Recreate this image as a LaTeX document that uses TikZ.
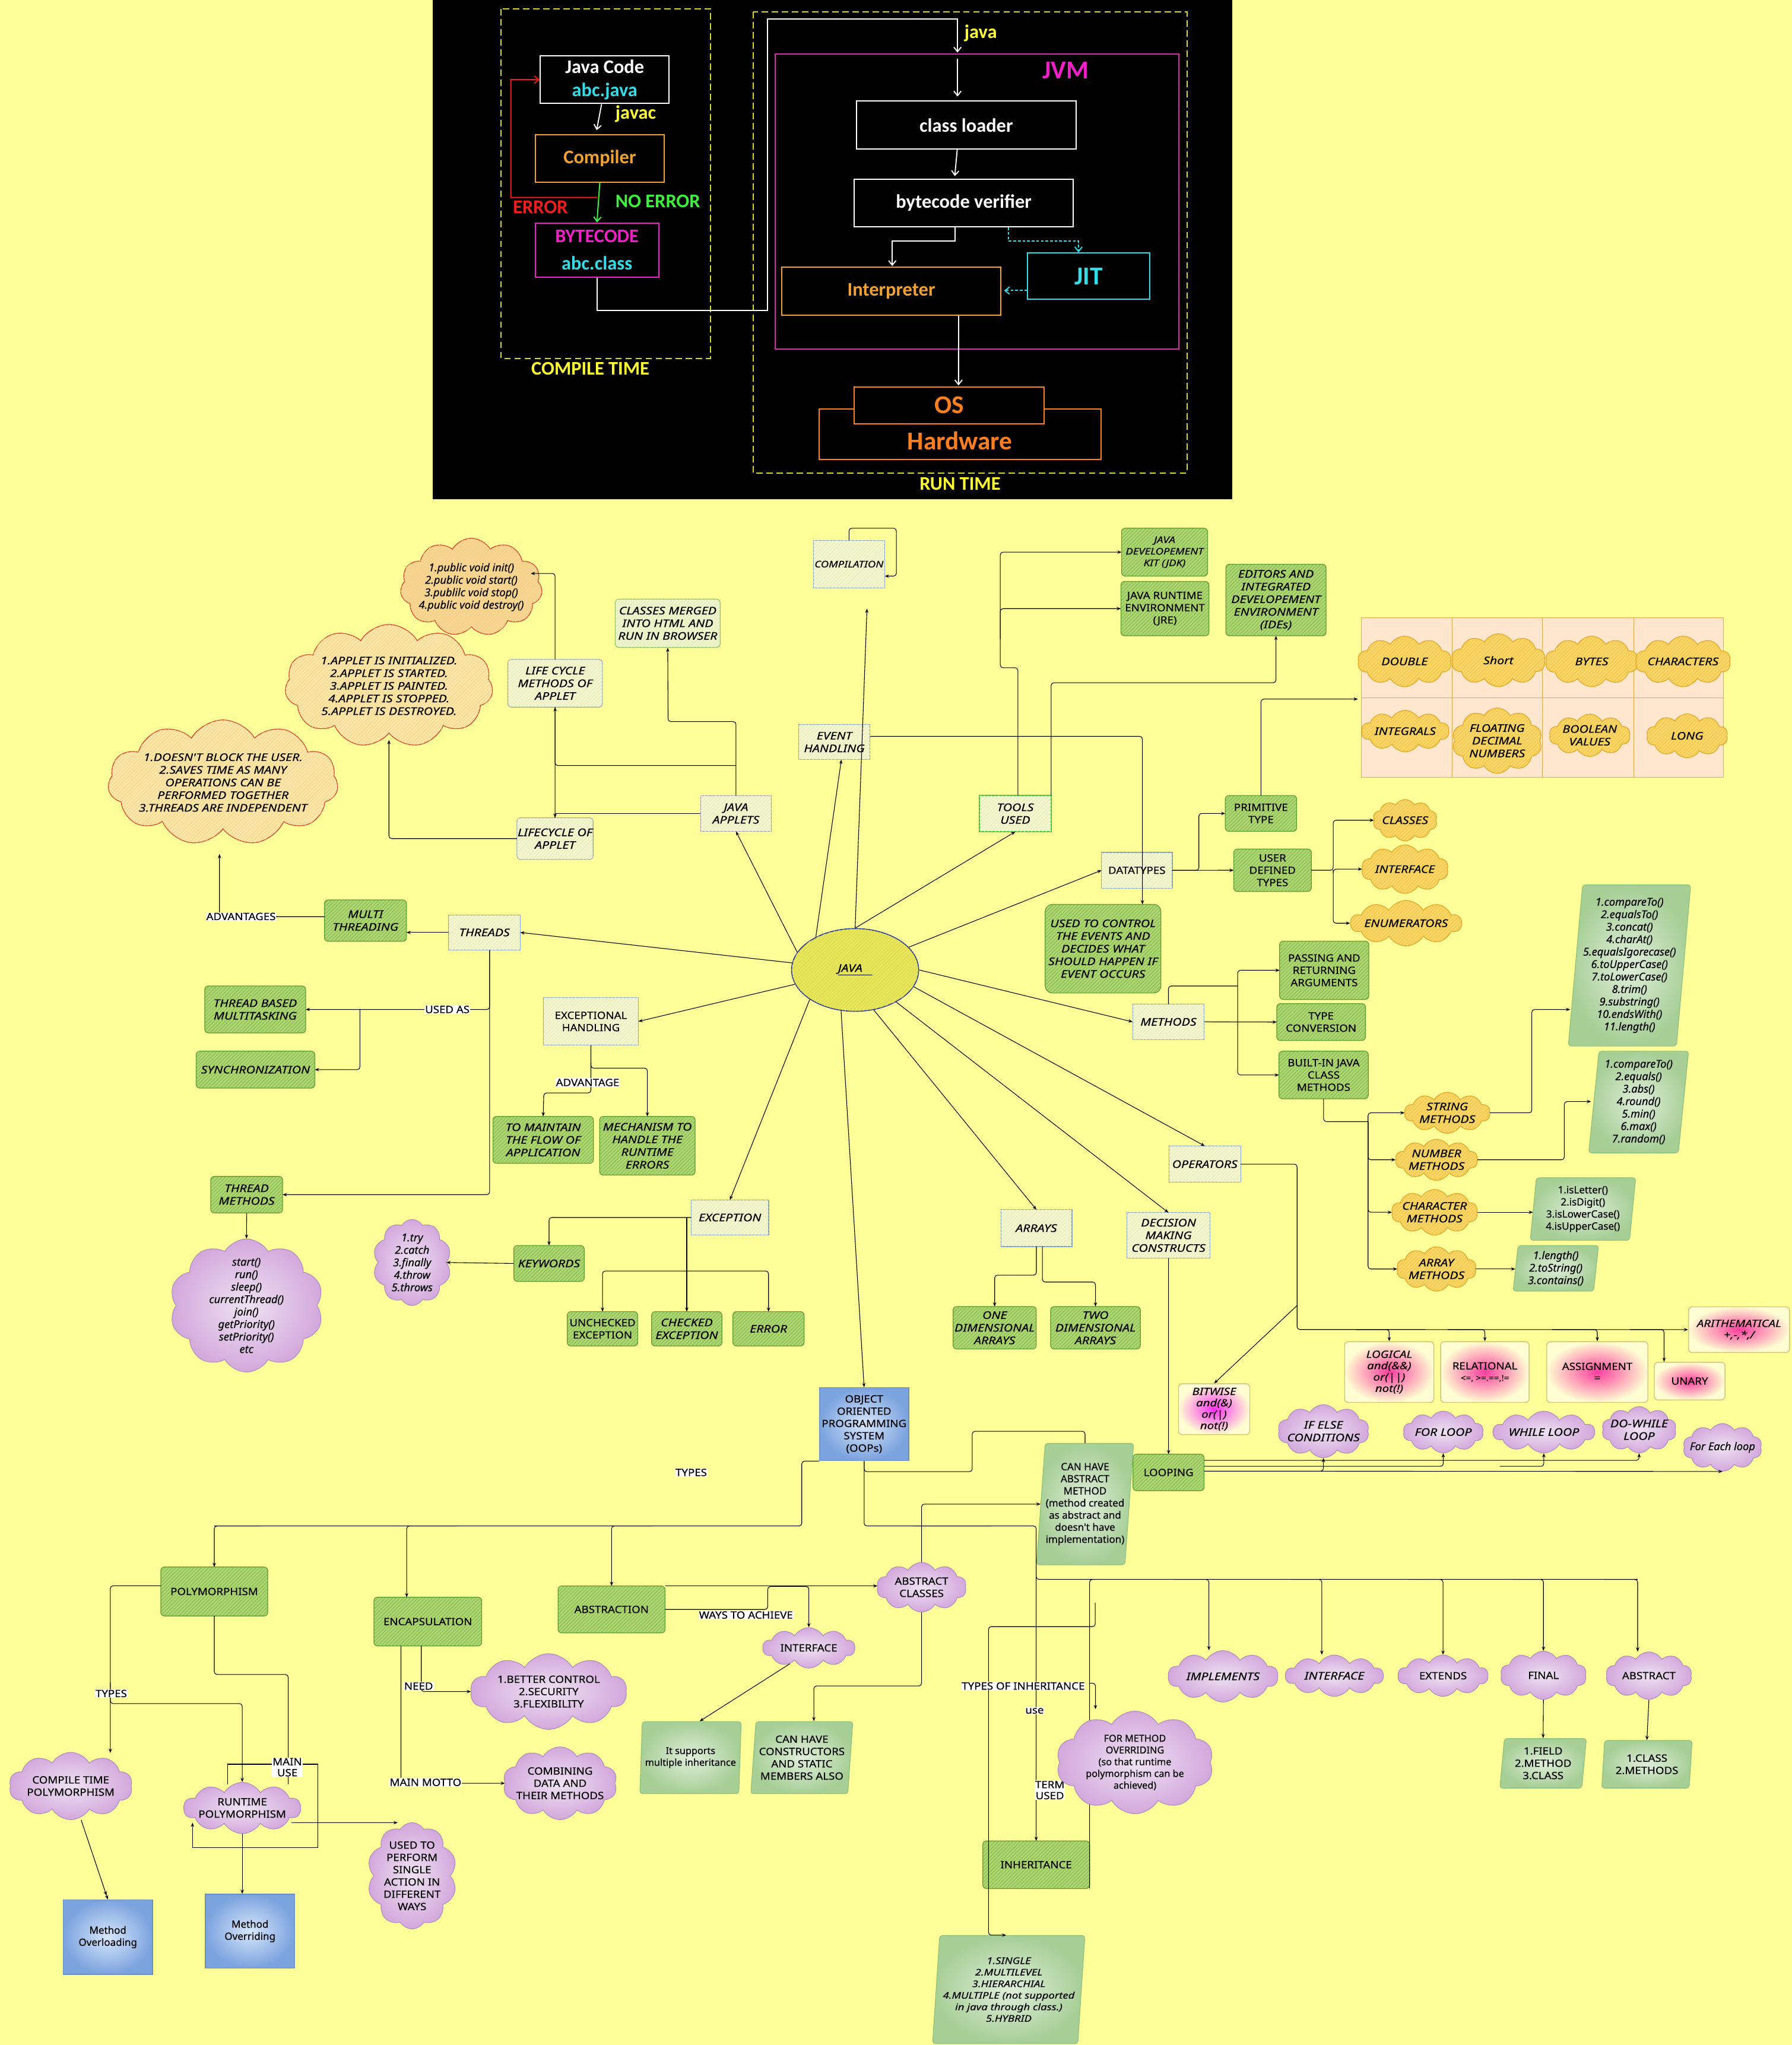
\documentclass[tikz,border=0pt]{standalone}
\usepackage{fontspec}
\setmainfont{Noto Sans}
\newfontfamily\topf{Carlito}
\newfontfamily\itfam{Noto Sans}[FakeStretch=1.2,FakeBold=0.4]
\newfontfamily\upfam{Noto Sans}[FakeStretch=1.1,FakeBold=0.4]
\newfontfamily\lcfam{Noto Sans}[FakeBold=0.4]
\usetikzlibrary{shapes.symbols,shapes.geometric,arrows.meta,patterns.meta,calc}
\definecolor{bgy}{HTML}{FFFF99}
\definecolor{ydash}{HTML}{D8D82A}
\definecolor{ylab}{HTML}{FFFF33}
\definecolor{tcyan}{HTML}{33DDE8}
\definecolor{torange}{HTML}{F2A233}
\definecolor{tor2}{HTML}{FF7F1F}
\definecolor{tmag}{HTML}{F21FC8}
\definecolor{jvmc}{HTML}{D02FB0}
\definecolor{tgreen}{HTML}{3CF23C}
\definecolor{tred}{HTML}{F21C1C}
\definecolor{bbdraw}{HTML}{7F9EC8}
\definecolor{bbfill}{HTML}{F3F6CF}
\definecolor{bbhatch}{HTML}{E2E9B4}
\definecolor{apdraw}{HTML}{9C8FB0}
\definecolor{toolg}{HTML}{33CC33}
\definecolor{gbdraw}{HTML}{5A9A2A}
\definecolor{gbfill}{HTML}{AED673}
\definecolor{gbhatch}{HTML}{7DB344}
\definecolor{lgfill}{HTML}{EEF4CC}
\definecolor{lgdraw}{HTML}{8CC063}
\definecolor{rcfill}{HTML}{FCE6A8}
\definecolor{rcfill2}{HTML}{F8D590}
\definecolor{rcdraw}{HTML}{DA3A26}
\definecolor{rchatch}{HTML}{F1CF86}
\definecolor{ocfill}{HTML}{F9D668}
\definecolor{ocdraw}{HTML}{E2A523}
\definecolor{ochatch}{HTML}{EDBE3E}
\definecolor{cellfill}{HTML}{FFE6CC}
\definecolor{celldraw}{HTML}{E3A848}
\definecolor{lcin}{HTML}{EEE2F2}
\definecolor{lcout}{HTML}{D3A8DC}
\definecolor{lcdraw}{HTML}{B286C0}
\definecolor{pgin}{HTML}{DFEEDA}
\definecolor{pgout}{HTML}{A6CE95}
\definecolor{pgdraw}{HTML}{8CBF78}
\definecolor{pkin}{HTML}{FF3F9F}
\definecolor{pkin2}{HTML}{FF30F0}
\definecolor{pkout}{HTML}{FFFDD2}
\definecolor{pkdraw}{HTML}{D2C472}
\definecolor{bgin}{HTML}{D6E6FB}
\definecolor{bgout}{HTML}{7BA3DE}
\definecolor{bgdraw}{HTML}{6C8EBF}
\definecolor{javaf}{HTML}{E9E75C}
\definecolor{javad}{HTML}{1E2FA6}
\definecolor{javah}{HTML}{D6D443}
\newcommand\tfs{\topf\bfseries\fontsize{21}{25}\selectfont}
\newcommand\tbig{\topf\bfseries\fontsize{28}{32}\selectfont}
\newcommand\mkbox[7]{\node[#2,minimum width={(#5-#3)*0.5mm},minimum height={(#6-#4)*0.5mm}] (#1) at ({(#3+#5)/2},{(#4+#6)/2}) {#7};}
\tikzset{
 hatch/.style={postaction={pattern={Lines[angle=45,distance=2.8pt,line width=0.5pt]},pattern color=#1}},
 itf/.style={font=\itfam\itshape\fontsize{11.5}{13.8}\selectfont},
 itsm/.style={font=\itfam\itshape\fontsize{10}{12.6}\selectfont},
 upf/.style={font=\upfam\fontsize{11}{13.4}\selectfont},
 bff/.style={font=\upfam\bfseries\fontsize{11}{13.4}\selectfont},
 lci/.style={font=\lcfam\itshape\fontsize{11.8}{13.6}\selectfont},
 lcu/.style={font=\lcfam\fontsize{11}{13.2}\selectfont},
 lcs/.style={font=\lcfam\fontsize{10.5}{12.8}\selectfont},
 pkit/.style={font=\itfam\itshape\fontsize{11}{12.4}\selectfont},
 pkup/.style={font=\upfam\fontsize{11}{12.4}\selectfont},
 tbx/.style={draw,line width=1.3pt,fill=black,inner sep=1pt,align=center,font=\tfs},
 bbx/.style={draw=bbdraw,fill=bbfill,hatch=bbhatch,line width=0.7pt,inner sep=0.5pt,outer sep=0pt,align=center,itf},
 gbx/.style={draw=gbdraw,fill=gbfill,hatch=gbhatch,rounded corners=4pt,line width=0.8pt,inner sep=0.5pt,outer sep=0pt,align=center,itf},
 lgbx/.style={draw=lgdraw,fill=lgfill,hatch=bbhatch,rounded corners=4pt,line width=0.8pt,inner sep=0.5pt,align=center,itf},
 rcl/.style={cloud,cloud puffs=11,cloud puff arc=120,cloud ignores aspect,draw=rcdraw,fill=rcfill,hatch=rchatch,line width=0.8pt,inner sep=-4pt,align=center,itf},
 ocl/.style={cloud,cloud puffs=10,cloud puff arc=120,cloud ignores aspect,draw=ocdraw,fill=ocfill,hatch=ochatch,line width=0.8pt,inner sep=-4pt,align=center,itf},
 lcl/.style={cloud,cloud puffs=10,cloud puff arc=120,cloud ignores aspect,draw=lcdraw,line width=0.7pt,inner color=lcin,outer color=lcout,inner sep=-4pt,align=center,upf},
 pgx/.style={trapezium,trapezium left angle=84,trapezium right angle=96,trapezium stretches=true,rounded corners=3pt,draw=pgdraw,line width=0.7pt,inner color=pgin,outer color=pgout,inner sep=0.5pt,align=center,upf},
 pkx/.style={rounded corners=4pt,draw=pkdraw,line width=0.9pt,inner color=pkin,outer color=pkout,inner sep=0.5pt,align=center,pkup},
 bgx/.style={draw=bgdraw,line width=0.9pt,inner color=bgin,outer color=bgout,inner sep=0.5pt,align=center,upf},
 cellx/.style={draw=celldraw,fill=cellfill,line width=0.6pt},
 conn/.style={draw=black,line width=0.7pt},
 arw/.style={conn,-{Stealth[length=4.6pt,width=3.6pt]}},
 arw2/.style={conn,-{Stealth[length=4.6pt,width=3.6pt]Stealth[length=4.6pt,width=3.6pt]}},
 rnd/.style={rounded corners=3pt},
 lab/.style={fill=white,inner sep=0.6pt,font=\upfam\fontsize{11}{12}\selectfont},
 tw/.style={draw=white,line width=1.2pt,-{Straight Barb[length=5pt,width=8pt]}},
}
\begin{document}
\begin{tikzpicture}[x=0.5mm,y=-0.5mm]
\useasboundingbox (0,0) rectangle (1374,1568);
\fill[bgy] (0,0) rectangle (1374,1568);
% ================= TOP BLACK PANEL =================
\fill[black] (332,0) rectangle (945,383);
\draw[ydash,line width=1.3pt,dash pattern=on 7pt off 4pt] (384,6.8) rectangle (544.6,274.7);
\draw[ydash,line width=1.3pt,dash pattern=on 7pt off 4pt] (577.5,9.3) rectangle (910.3,362.6);
\draw[jvmc,line width=1.3pt] (594.3,41.5) rectangle (904,267.4);
\mkbox{jcode}{tbx,draw=white}{414.4}{42.7}{513}{79.4}{\textcolor{white}{Java Code}\\\textcolor{tcyan}{abc.java}}
\mkbox{compiler}{tbx,draw=torange,text=torange}{410.5}{103.3}{509.3}{139.7}{Compiler}
\mkbox{bcode}{tbx,draw=tmag}{410.5}{171}{505}{212.4}{\textcolor{tmag}{BYTECODE}\\[5pt]\textcolor{tcyan}{abc.class}}
\mkbox{cload}{tbx,draw=white,text=white}{656.8}{77.6}{825}{114.3}{class loader}
\mkbox{bver}{tbx,draw=white,text=white}{655}{137.5}{823}{173.9}{bytecode verifier}
\mkbox{jit}{tbx,draw=tcyan,text=tcyan,font=\tbig}{788}{194}{881.6}{229.5}{JIT}
\mkbox{interp}{tbx,draw=torange,text=torange}{599.4}{205}{767.5}{241.7}{Interpreter}
\mkbox{hw}{tbx,draw=tor2}{628}{313.8}{844.5}{352.3}{}
\node[font=\tbig,text=tor2] (hwt) at (736,338) {Hardware};
\mkbox{os}{tbx,draw=tor2,text=tor2,font=\tbig}{655}{296.7}{800.6}{324.8}{OS}
\node[font=\tfs,text=ylab] (javac) at (487.5,87.4) {javac};
\node[font=\tfs,text=tgreen] (noerr) at (504.4,154.3) {NO ERROR};
\node[font=\tfs,text=tred] (errl) at (414.4,158.7) {ERROR};
\node[font=\tfs,text=ylab] (javal) at (752,25.6) {java};
\node[font=\tbig,text=tmag] (jvml) at (817,54.2) {JVM};
\node[font=\tfs,text=ylab] (ctl) at (452.7,282.8) {COMPILE TIME};
\node[font=\tfs,text=ylab] (rtl) at (736.2,371.2) {RUN TIME};
\draw[tw] ([xshift=-1.2mm]jcode.south) -- ([xshift=-1.2mm,yshift=1.5mm]compiler.north);
\draw[draw=tgreen,line width=1.3pt,-{Straight Barb[length=5pt,width=8pt]}] (compiler.south) -- (bcode.north);
\coordinate (errst) at (458,151.4);
\draw[draw=tred,line width=1.2pt,-{Straight Barb[length=5pt,width=8pt]}] (errst) -| (391.7,61.05) -- (jcode.west);
\draw[tw] (bcode.south) |- (588.4,238) |- (734.2,14.7) -- (734.2,40.3);
\draw[tw] (734.2,45) -- (734.2,74);
\draw[tw] ([xshift=-3.45mm]cload.south) -- ([xshift=-3.45mm,yshift=1mm]bver.north);
\draw[tw] ([xshift=-3.35mm]bver.south) |- (684.2,184.8) -- (684.2,204);
\draw[draw=tcyan,line width=1.2pt,dash pattern=on 3pt off 2pt,-{Straight Barb[length=5pt,width=8pt]}] ([xshift=17.2mm]bver.south) |- (827,184.8) -- (827,193.5);
\draw[draw=tcyan,line width=1.2pt,dash pattern=on 3pt off 2pt,-{Straight Barb[length=5pt,width=8pt]}] ([yshift=-5.5mm]jit.west) -- ([yshift=-5.5mm,xshift=1mm]jit.west -| interp.east);
\draw[tw] ([xshift=25.8mm]interp.south) -- (735,295.5);
% ================= MAIN AREA NODES =================
\draw[cellx] (1043.7,473.7) rectangle (1113.5,535);
\draw[cellx] (1113.5,473.7) rectangle (1182.9,535);
\draw[cellx] (1182.9,473.7) rectangle (1252.6,535);
\draw[cellx] (1252.6,473.7) rectangle (1321.3,535);
\draw[cellx] (1043.7,535) rectangle (1113.5,596);
\draw[cellx] (1113.5,535) rectangle (1182.9,596);
\draw[cellx] (1182.9,535) rectangle (1252.6,596);
\draw[cellx] (1252.6,535) rectangle (1321.3,596);
\mkbox{dbl}{ocl}{1041}{487.8}{1113}{526.5}{DOUBLE}
\mkbox{shrt}{ocl}{1113}{486}{1185}{526.5}{Short}
\mkbox{byt}{ocl}{1185}{487.8}{1256}{526.5}{BYTES}
\mkbox{chr}{ocl}{1254}{487.8}{1327}{526.5}{CHARACTERS}
\mkbox{intg}{ocl}{1044}{544.7}{1111}{576.5}{INTEGRALS}
\mkbox{flt}{ocl}{1113.5}{542.9}{1182.5}{593}{FLOATING\\DECIMAL\\NUMBERS}
\mkbox{bool}{ocl}{1188}{547.6}{1250}{580}{BOOLEAN\\VALUES}
\mkbox{lng}{ocl}{1262.6}{547.4}{1324.8}{581}{LONG}
% applet region
\mkbox{comp}{bbx,itsm}{623.6}{414.3}{678.4}{450.8}{COMPILATION}
\mkbox{cm}{lgbx}{471.8}{459.4}{552.2}{496.4}{CLASSES MERGED\\INTO HTML AND\\RUN IN BROWSER}
\mkbox{init}{rcl,fill=rcfill2,lci}{309.5}{412.7}{413.3}{487.7}{1.public void init()\\2.public void start()\\3.publilc void stop()\\4.public void destroy()}
\mkbox{lcm}{bbx,rounded corners=4pt}{389.4}{505.6}{461.9}{542.2}{LIFE CYCLE\\METHODS OF\\APPLET}
\mkbox{apinit}{rcl}{218.5}{478.8}{378}{573}{1.APPLET IS INITIALIZED.\\2.APPLET IS STARTED.\\3.APPLET IS PAINTED.\\4.APPLET IS STOPPED.\\5.APPLET IS DESTROYED.}
\mkbox{adv}{rcl}{83.5}{552}{258.5}{648}{1.DOESN'T BLOCK THE USER.\\2.SAVES TIME AS MANY\\OPERATIONS CAN BE\\PERFORMED TOGETHER\\3.THREADS ARE INDEPENDENT}
\mkbox{applets}{bbx,draw=apdraw}{537.2}{610}{591.5}{637.5}{JAVA\\APPLETS}
\mkbox{lca}{bbx,rounded corners=4pt}{396.4}{627}{454.8}{659}{LIFECYCLE OF\\APPLET}
\mkbox{evh}{bbx}{612.3}{555.5}{667.2}{582.5}{EVENT\\HANDLING}
\mkbox{tools}{bbx,draw=toolg,line width=1pt}{751}{610}{806}{637.7}{TOOLS\\USED}
\mkbox{jdk}{gbx,itsm}{860}{405}{926}{441.7}{JAVA\\DEVELOPEMENT\\KIT (JDK)}
\mkbox{jre}{gbx,bff}{859.5}{445.8}{927}{487.5}{JAVA RUNTIME\\ENVIRONMENT\\(JRE)}
\mkbox{ide}{gbx}{940}{432.6}{1016.8}{487.5}{EDITORS AND\\INTEGRATED\\DEVELOPEMENT\\ENVIRONMENT\\(IDEs)}
\mkbox{prim}{gbx,upf}{939.5}{610}{994.3}{637.4}{PRIMITIVE\\TYPE}
\mkbox{dt}{bbx,upf}{844.6}{653.6}{898.9}{681}{DATATYPES}
\mkbox{udt}{gbx,upf}{946}{651}{1005.5}{683.5}{USER\\DEFINED\\TYPES}
\mkbox{cls}{ocl}{1052.8}{613}{1102}{644.8}{CLASSES}
\mkbox{intf}{ocl}{1044}{647.8}{1110.6}{685}{INTERFACE}
\mkbox{enm}{ocl}{1035.8}{690.4}{1120.6}{725.3}{ENUMERATORS}
\mkbox{utc}{gbx,rounded corners=8pt}{801.4}{693.4}{890.2}{761.4}{USED TO CONTROL\\THE EVENTS AND\\DECIDES WHAT\\SHOULD HAPPEN IF\\EVENT OCCURS}
\node[ellipse,draw=javad,line width=1pt,fill=javaf,hatch=javah,minimum width=97.4*0.5mm,minimum height=63.4*0.5mm,inner sep=0pt,itf] (java) at (655.7,743.7) {\underline{JAVA\ \ \ }};
% threads
\mkbox{threads}{bbx}{344}{701.5}{398.9}{728.4}{THREADS}
\mkbox{mt}{gbx}{248.8}{690}{311.7}{721.7}{MULTI\\THREADING}
\mkbox{tbm}{gbx}{157}{756}{234.4}{792}{THREAD BASED\\MULTITASKING}
\mkbox{sync}{gbx}{150.4}{806}{241.4}{834.3}{SYNCHRONIZATION}
\mkbox{tm}{gbx}{161.6}{902}{216.7}{930}{THREAD\\METHODS}
\mkbox{tmc}{lcl,lci,inner ysep=-16pt}{130}{950}{248}{1052}{start()\\run()\\sleep()\\currentThread()\\join()\\getPriority()\\setPriority()\\etc}
% exceptions
\mkbox{eh}{bbx,upf}{416.7}{765}{489.5}{801.4}{EXCEPTIONAL\\HANDLING}
\mkbox{tmf}{gbx}{378}{856}{455}{892}{TO MAINTAIN\\THE FLOW OF\\APPLICATION}
\mkbox{mech}{gbx}{459.8}{856}{533}{901}{MECHANISM TO\\HANDLE THE\\RUNTIME\\ERRORS}
\mkbox{exc}{bbx}{530}{920}{589.4}{947}{EXCEPTION}
\mkbox{kw}{gbx}{394}{955}{448}{982.5}{KEYWORDS}
\mkbox{tryc}{lcl,lci,inner ysep=-9pt}{286}{935}{346}{1001}{1.try\\2.catch\\3.finally\\4.throw\\5.throws}
\mkbox{unc}{gbx,upf}{435}{1005.7}{489}{1032}{UNCHECKED\\EXCEPTION}
\mkbox{chk}{gbx}{499.6}{1005.7}{553.6}{1032}{CHECKED\\EXCEPTION}
\mkbox{err}{gbx}{562}{1005.7}{616.6}{1032}{ERROR}
% methods
\mkbox{meth}{bbx}{868.5}{770}{923.4}{797}{METHODS}
\mkbox{pass}{gbx,upf}{981.2}{721.6}{1049.6}{766.3}{PASSING AND\\RETURNING\\ARGUMENTS}
\mkbox{tc}{gbx,upf}{979}{769.5}{1047}{797.8}{TYPE\\CONVERSION}
\mkbox{bim}{gbx,upf}{980.7}{806}{1049.2}{842.5}{BUILT-IN JAVA\\CLASS\\METHODS}
\mkbox{strm}{ocl}{1077}{837.5}{1142.5}{869}{STRING\\METHODS}
\mkbox{numm}{ocl}{1070}{873.5}{1133}{905}{NUMBER\\METHODS}
\mkbox{chm}{ocl}{1067}{912}{1133}{947}{CHARACTER\\METHODS}
\mkbox{arm}{ocl}{1071}{956}{1132}{990}{ARRAY\\METHODS}
\mkbox{sl1}{pgx,lci}{1204}{678.5}{1295}{802}{1.compareTo()\\2.equalsTo()\\3.concat()\\4.charAt()\\5.equalsIgorecase()\\6.toUpperCase()\\7.toLowerCase()\\8.trim()\\9.substring()\\10.endsWith()\\11.length()}
\mkbox{sl2}{pgx,lci}{1218}{806}{1295}{884}{1.compareTo()\\2.equals()\\3.abs()\\4.round()\\5.min()\\6.max()\\7.random()}
\mkbox{sl3}{pgx,lcu}{1173}{903}{1254.6}{951}{1.isLetter()\\2.isDigit()\\3.isLowerCase()\\4.isUpperCase()}
\mkbox{sl4}{pgx,lci}{1160}{955}{1226}{990}{1.length()\\2.toString()\\3.contains()}
% operators
\mkbox{ops}{bbx}{896.4}{878.7}{951.3}{906.5}{OPERATORS}
\mkbox{bitw}{pkx,pkit,inner color=pkin2}{903.7}{1061}{958.3}{1100}{BITWISE\\and(\&)\\or(|)\\not(!)}
\mkbox{logi}{pkx,pkit}{1031}{1028.7}{1099.5}{1075.3}{LOGICAL\\and(\&\&)\\or(||)\\not(!)}
\mkbox{rel}{pkx}{1104.7}{1028.7}{1172.5}{1075.3}{RELATIONAL\\{\fontsize{9}{11}\selectfont <=, >=.==,!=}}
\mkbox{asg}{pkx}{1186}{1028.7}{1263.6}{1075.3}{ASSIGNMENT\\=}
\mkbox{una}{pkx}{1268.5}{1044.5}{1322.7}{1073.4}{UNARY}
\mkbox{ari}{pkx,pkit}{1294.7}{1002}{1372.3}{1037}{ARITHEMATICAL\\+,-,*,/}
% arrays, decisions, loops
\mkbox{arr}{bbx}{767.4}{927.5}{822}{955.8}{ARRAYS}
\mkbox{dmc}{bbx}{864}{929.8}{928}{964.6}{DECISION\\MAKING\\CONSTRUCTS}
\mkbox{one}{gbx}{730.8}{1001.8}{794.6}{1034.3}{ONE\\DIMENSIONAL\\ARRAYS}
\mkbox{two}{gbx}{805.6}{1001.8}{874.4}{1034.3}{TWO\\DIMENSIONAL\\ARRAYS}
\mkbox{loop}{gbx,upf}{868.8}{1115}{923.3}{1143}{LOOPING}
\mkbox{ifel}{lcl,itf}{980.6}{1077}{1049}{1117.7}{IF ELSE\\CONDITIONS}
\mkbox{forl}{lcl,itf}{1076}{1082}{1137.4}{1114}{FOR LOOP}
\mkbox{whl}{lcl,itf}{1145}{1082}{1222.6}{1114}{WHILE LOOP}
\mkbox{dowh}{lcl,itf}{1228.3}{1078.5}{1285.4}{1114}{DO-WHILE\\LOOP}
\mkbox{fe}{lcl,lci}{1291.6}{1091.5}{1350}{1128}{For Each loop}
% OOPs
\mkbox{oops}{bgx}{628.4}{1064}{696.8}{1120}{OBJECT\\ORIENTED\\PROGRAMMING\\SYSTEM\\(OOPs)}
\mkbox{cham}{pgx,lcu}{796}{1106.7}{868}{1199.8}{CAN HAVE\\ABSTRACT\\METHOD\\(method created\\as abstract and\\doesn't have\\implementation)}
\mkbox{poly}{gbx,upf}{123.3}{1201.5}{205.3}{1239}{POLYMORPHISM}
\mkbox{enc}{gbx,upf}{286.7}{1224.7}{369.4}{1262}{ENCAPSULATION}
\mkbox{abs}{gbx,upf}{427.9}{1216}{510}{1252}{ABSTRACTION}
\mkbox{absc}{lcl}{672.3}{1198}{741}{1236}{ABSTRACT\\CLASSES}
\mkbox{aintf}{lcl}{585}{1248}{655.4}{1279}{INTERFACE}
\mkbox{ism}{pgx,lcs}{490.6}{1320}{568.4}{1375.3}{It supports\\multiple inheritance}
\mkbox{chc}{pgx}{575.7}{1320}{654}{1375.3}{CAN HAVE\\CONSTRUCTORS\\AND STATIC\\MEMBERS ALSO}
\mkbox{inh}{gbx,upf}{753.6}{1411.5}{835.5}{1448}{INHERITANCE}
\mkbox{types}{pgx,itsm}{715}{1484}{832}{1567}{1.SINGLE\\2.MULTILEVEL\\3.HIERARCHIAL\\4.MULTIPLE (not supported\\in java through class.)\\5.HYBRID}
\mkbox{impl}{lcl,itf}{895.7}{1265.6}{979.9}{1305}{IMPLEMENTS}
\mkbox{iintf}{lcl,itf}{985.7}{1269}{1060.6}{1300.7}{INTERFACE}
\mkbox{ext}{lcl}{1072}{1269}{1141}{1300.7}{EXTENDS}
\mkbox{fin}{lcl}{1150.5}{1266}{1216.5}{1303}{FINAL}
\mkbox{absk}{lcl}{1231.4}{1266.6}{1297.3}{1303}{ABSTRACT}
\mkbox{ffl}{pgx}{1150}{1333}{1216.5}{1371}{1.FIELD\\2.METHOD\\3.CLASS}
\mkbox{fcm}{pgx}{1228}{1334.5}{1297.7}{1371}{1.CLASS\\2.METHODS}
\mkbox{ctp}{lcl}{7}{1343.6}{101.5}{1395.2}{COMPILE TIME\\POLYMORPHISM}
\mkbox{rtp}{lcl}{141}{1366.6}{230.5}{1405.9}{RUNTIME\\POLYMORPHISM}
\mkbox{utp}{lcl,inner ysep=-10pt}{281.6}{1397.5}{350.3}{1479}{USED TO\\PERFORM\\SINGLE\\ACTION IN\\DIFFERENT\\WAYS}
\mkbox{bc}{lcl}{360.8}{1268}{480.6}{1326}{1.BETTER CONTROL\\2.SECURITY\\3.FLEXIBILITY}
\mkbox{cdm}{lcl}{386.4}{1339.4}{472.5}{1395.2}{COMBINING\\DATA AND\\THEIR METHODS}
\mkbox{mol}{bgx,lcu}{48.5}{1456.7}{116.9}{1513.9}{Method\\Overloading}
\mkbox{mor}{bgx,lcu}{157.4}{1452.4}{226}{1509}{Method\\Overriding}
% ================= CONNECTORS =================
\coordinate (comptip) at (664.8,466.7);
\draw[arw] (java.north) -- (comptip);
\draw[arw] (java.140) -- ([xshift=2.7mm]evh.south);
\draw[arw] (java.163) -- (applets.south);
\draw[arw] (java) -- (threads.east);
\draw[arw] (java) -- (eh.east);
\draw[arw] (java.213) -- (exc.north);
\draw[arw] (java.251) -- (oops.north);
\draw[arw] (java.north) -- (tools.south);
\draw[arw] (java.23) -- (dt.west);
\draw[arw] (java.east) -- (meth.west);
\draw[arw] (java.344) -- (ops.north);
\draw[arw] (java.322) -- (dmc.north);
\draw[arw] (java.295) -- (arr.north);
\draw[arw,rnd] (comp.north) -- (651,405) -- (687.3,405) -- (687.3,441.7) -- ([yshift=-4.6mm]comp.east);
\draw[arw,rnd] ([yshift=2.2mm]evh.east) -| ([xshift=15.1mm]utc.north);
\draw[arw,rnd] ([xshift=1mm]tools.north) |- (767,512) |- (jdk.west);
\draw[arw,rnd] (767,490) |- (jre.west);
\draw[arw,rnd] (tools.north east) |- ($(ide.south)+(0,36)$) -- (ide.south);
\draw[arw,rnd] (dt.east) -- (919.3,667.3) |- (prim.west);
\draw[arw] (dt.east) -- (udt.west);
\coordinate (tblin) at (1041.2,536);
\draw[arw,rnd] (prim.north) |- (tblin);
\draw[arw,rnd] (udt.east) -- (1022.3,667.25) |- (cls.west);
\draw[arw,rnd] (1022.3,667.25) |- (intf.west);
\draw[arw,rnd] (1022.3,667.25) |- (enm.west);
% applets
\draw[arw,rnd] (applets.north) |- (512.3,553.3) -- (cm.south);
\draw[arw,rnd] (564.35,587) -| (lcm.south);
\draw[conn] (lca.north) -- (lcm.south);
\draw[arw] (applets.west) -| (lca.north);
\coordinate (initin) at (407,439.7);
\draw[arw,rnd] (lcm.north) |- (initin);
\draw[arw,rnd] (lca.west) -| ([yshift=-2.5mm]apinit.south);
% threads
\draw[arw] (threads.west) -- (threads.west -| mt.east);
\coordinate (advin) at (168.3,654.8);
\draw[arw,rnd] ([yshift=1.5mm]mt.west) -| (advin);
\draw[arw,rnd] ([xshift=2mm]threads.south) |- (tbm.east);
\draw[arw,rnd] (276,774) |- (sync.east);
\draw[arw,rnd] ([xshift=2mm]threads.south) |- (tm.east);
\draw[arw] (tm.south) -- (tmc.north);
% exceptional handling
\draw[arw,rnd] (eh.south) -- (453.1,819) -| (mech.north);
\draw[arw,rnd] (453.1,815) |- (417,838) -- (tmf.north);
\draw[arw,rnd] (exc.west) -| (kw.north);
\draw[arw] (kw.west) -- (tryc.east);
\draw[conn] (526.6,933.5) -- (526.6,974.5);
\draw[arw,rnd] (526.6,974.5) -| (unc.north);
\draw[arw] (526.6,974.5) -- (chk.north);
\draw[arw,rnd] (526.6,974.5) -| (err.north);
% methods
\draw[conn,rnd] (meth.north) |- (949,756);
\draw[arw,rnd] (949,756) |- (pass.west);
\draw[arw,rnd] (949,756) |- (bim.west);
\draw[arw] (meth.east) -- (tc.west);
\draw[conn,rnd] (bim.south) |- (1049,860);
\draw[arw,rnd] (1049,860) |- (strm.west);
\draw[arw,rnd] (1049,860) |- (numm.west);
\draw[arw,rnd] (1049,860) |- (chm.west);
\draw[arw,rnd] (1049,860) |- (arm.west);
\coordinate (sl1in) at (1204,774);
\coordinate (sl2in) at (1220,844.6);
\draw[arw,rnd] (strm.east) -| (1174.6,774) -- (sl1in);
\draw[arw,rnd] (numm.east) -| (1199.5,844.6) -- (sl2in);
\draw[arw] (chm.east) -- (chm.east -| sl3.west);
\draw[arw] (arm.east) -- (arm.east -| sl4.west);
% operators
\draw[arw,rnd] (ops.east) -| (994.6,1019.4) -- (ari.west);
\draw[arw,rnd] (1040,1019.4) -| (logi.north);
\draw[arw,rnd] (1110,1019.4) -| (rel.north);
\draw[arw,rnd] (1190,1019.4) -| (asg.north);
\draw[arw,rnd] (1250,1019.4) -| ([xshift=-9.8mm]una.north);
\draw[arw] (994.6,1001) -- (bitw.north);
% arrays / decisions / loops
\draw[arw,rnd] (arr.south) -- (794.7,977.7) -| (one.north);
\draw[arw,rnd] ([xshift=2.3mm]arr.south) -- (799.3,983) -| (two.north);
\draw[arw] (dmc.south) -- (loop.north);
\draw[arw,rnd] (923.3,1119.7) -| (dowh.south);
\draw[arw,rnd] (923.3,1124.3) -| (forl.south);
\draw[arw,rnd] (1150,1124.3) -| (whl.south);
\draw[arw,rnd] (923.3,1128) -| (ifel.south);
\draw[arw] (923.3,1128) -- (fe.south);
% OOPs
\draw[conn,rnd] (oops.south west) -| (614.8,1170) -- (164.3,1170);
\draw[arw,rnd] (200,1170) -| (poly.north);
\draw[arw,rnd] (350,1170) -| ([xshift=-8.1mm]enc.north);
\draw[arw,rnd] (500,1170) -| (abs.north);
\draw[conn,rnd] (oops.south) -- (662.6,1170) -- (760,1170);
\draw[arw,rnd] (700,1170) -| (inh.north);
\draw[conn,rnd] (oops.south) -- (662.6,1128.4) -- (745.5,1128.4) -- (745.5,1097.4) -- (832,1097.4) -- (cham.north);
\draw[arw] (abs.north east) -- (abs.north east -| absc.west);
\draw[arw,rnd] (abs.east) -- (588.7,1234) -- (588.7,1216.4) -- (620.2,1216.4) -- (aintf.north);
\draw[arw,rnd] (absc.north) |- (cham.west);
\draw[arw,rnd] (absc.south) -- (706.65,1292.7) -| ([xshift=4.6mm]chc.north);
\draw[arw] (aintf.220) -- ([xshift=3.5mm]ism.north);
% inheritance
\draw[conn,rnd] (inh.south east) -- (835.5,1211) -- (1255.8,1211);
\draw[conn,rnd] (794.55,1195) |- (840,1211);
\draw[arw,rnd] (900,1211) -| ([xshift=-5.4mm]impl.north);
\draw[arw,rnd] (990,1211) -| ([xshift=-4.8mm]iintf.north);
\draw[arw,rnd] (1080,1211) -| (ext.north);
\draw[arw,rnd] (1160,1211) -| (fin.north);
\draw[arw,rnd] (1230,1211) -| ([xshift=-4.3mm]absk.north);
\coordinate (fmoin) at (840,1310.5);
\draw[arw,rnd] (835.5,1290.6) -| (fmoin);
\coordinate (inhst) at (839.8,1229);
\draw[arw,rnd] (inhst) |- (758,1247.2) |- ([xshift=-1mm]types.north);
\draw[arw] (fin.south) -- (ffl.north);
\draw[arw] (absk.south) -- (fcm.north);
% polymorphism
\coordinate (ctpin) at (84.6,1344);
\draw[arw,rnd] ([yshift=2.2mm]poly.west) -| (ctpin);
\draw[arw,rnd] (84.6,1290) |- (185.75,1306.2) -- (rtp.north);
\draw[conn,rnd] (poly.south) |- (221,1283.9) -- (221,1368);
\draw[arw] (174.7,1368) -- (174.7,1352.7) -- (243.6,1352.7) -- (243.6,1416.6) -- (147.6,1416.6) -- (147.6,1397.5);
\coordinate (utpin) at (305,1397.5);
\draw[arw] (223.5,1397.5) -- (utpin);
\draw[arw2] ([xshift=4mm]ctp.south) -- (mol.north);
\draw[arw] (rtp.south) -- (rtp.south |- mor.north);
% encapsulation
\draw[arw,rnd] ([xshift=-2.5mm]enc.south) |- (bc.west);
\draw[arw,rnd] ([xshift=-10.3mm]enc.south) |- (cdm.west);
% ================= LABELS =================
\node[lab] (l1) at (184.8,702.7) {ADVANTAGES};
\node[lab] (l2) at (343,774) {USED AS};
\node[lab] (l3) at (450.6,830) {ADVANTAGE};
\node[lab] (l4) at (530,1129) {TYPES};
\node[lab] (l5) at (572,1238.3) {WAYS TO ACHIEVE};
\node[lab] (l6) at (784.6,1292.7) {TYPES OF INHERITANCE};
\node[lab] (l7) at (793.3,1311.8) {use};
\node[lab,align=center] (l8) at (805,1372.6) {TERM\\USED};
\node[lab] (l9) at (85.3,1298.5) {TYPES};
\node[lab,align=center] (l10) at (220.3,1355) {MAIN\\USE};
\node[lab] (l11) at (321,1292.8) {NEED};
\node[lab] (l12) at (326.3,1366.6) {MAIN MOTTO};
\mkbox{fmo}{lcl,lcs}{810}{1312}{930.5}{1390.7}{FOR \textbf{METHOD}\\\textbf{OVERRIDING}\\(so that runtime\\polymorphism can be\\achieved)}
\end{tikzpicture}
\end{document}
